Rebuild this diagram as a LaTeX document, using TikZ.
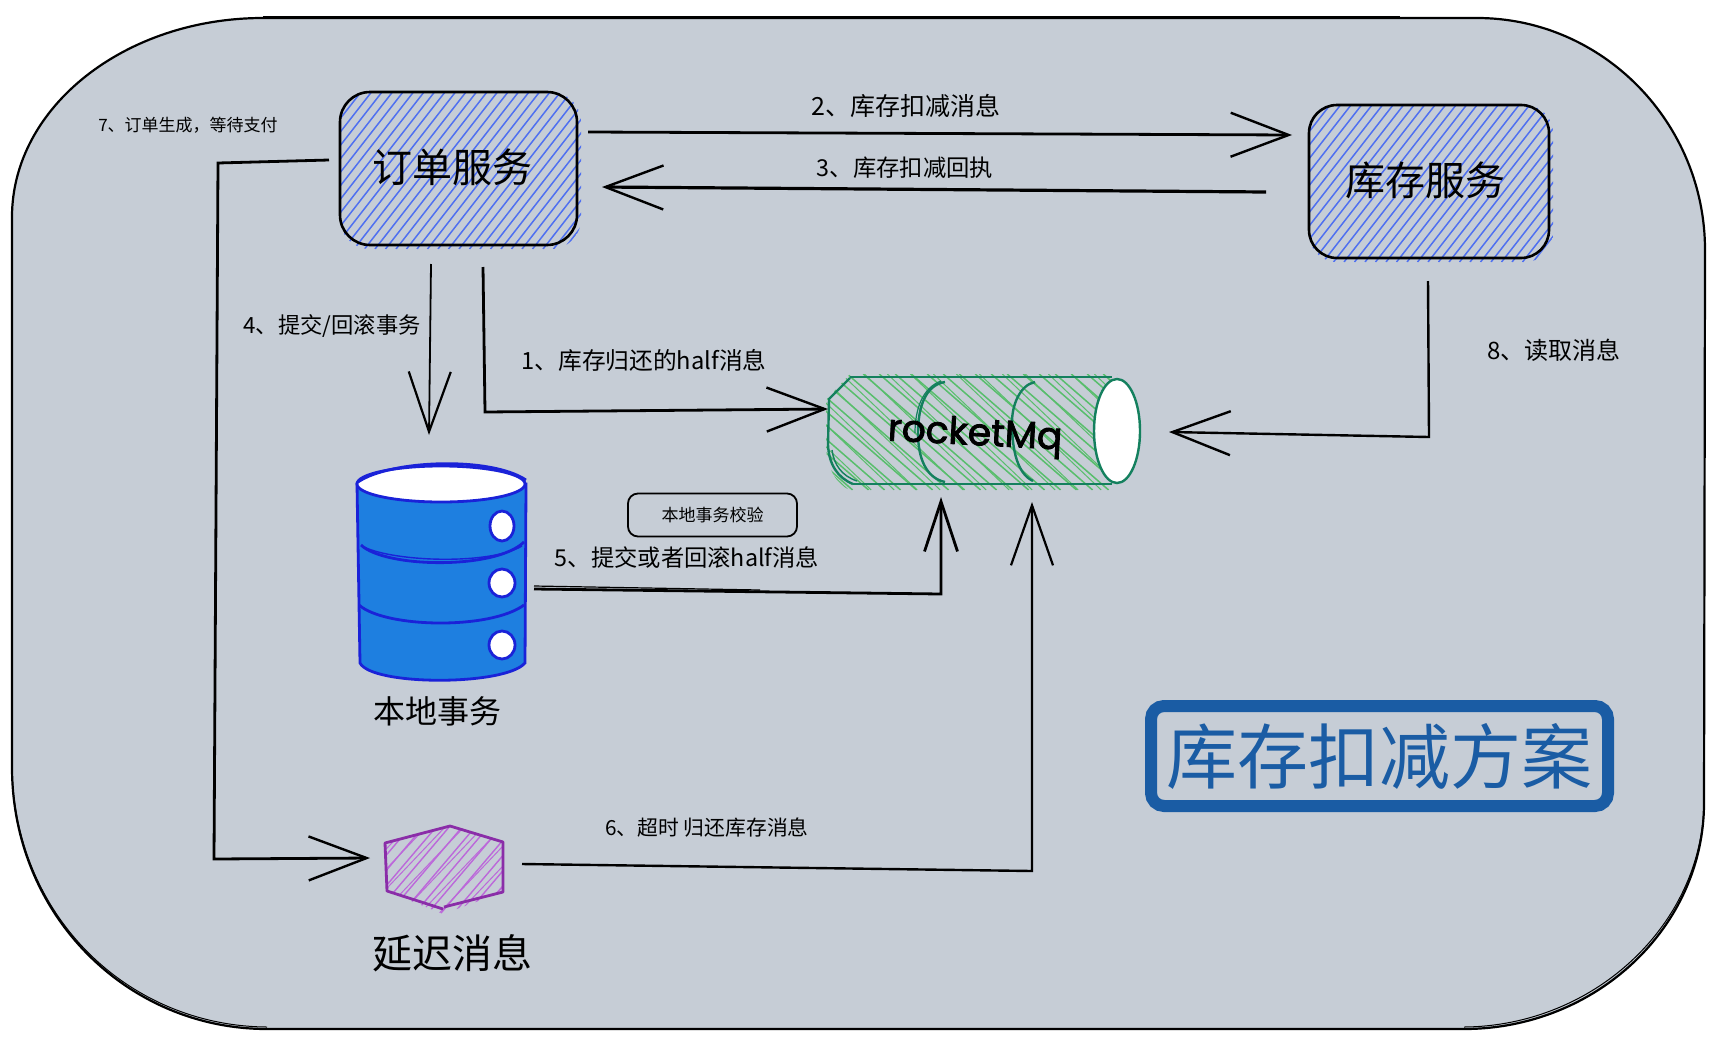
\documentclass[tikz,border=0pt]{standalone}
\usepackage{fontspec}
\setmainfont{Noto Sans CJK SC}
\newfontfamily\handfont[FakeBold=2.2]{Poppins}
\usetikzlibrary{arrows.meta,shapes.geometric}
\definecolor{panelbg}{HTML}{C6CDD6}
\definecolor{hatchblue}{HTML}{4F70F0}
\definecolor{mqgreen}{HTML}{14805E}
\definecolor{hatchgreen}{HTML}{58BE6C}
\definecolor{dbblue}{HTML}{1E7FE0}
\definecolor{dbline}{HTML}{1A22D8}
\definecolor{delaypurple}{HTML}{8A2DA8}
\definecolor{hatchpurple}{HTML}{BC68DA}
\definecolor{titleblue}{HTML}{1A5CA4}
\newcommand{\hatchlines}[6]{%
  \pgfmathsetmacro\hh{#4-(#2)}%
  \pgfmathsetmacro\ll{#6*\hh}%
  \pgfmathsetmacro\xa{#1-abs(\ll)}%
  \pgfmathsetmacro\xb{\xa+#5}%
  \pgfmathsetmacro\xc{#3+abs(\ll)}%
  \foreach \xx in {\xa,\xb,...,\xc}{\draw (\xx,#4) -- ({\xx+\ll},#2);}%
}
\tikzset{
  lab/.style={font=\fontsize{#1pt}{#1pt}\selectfont,inner sep=0pt,outer sep=0pt,text=black},
  svcbox/.style={draw=black,line width=2.6pt,rounded corners=30pt,inner sep=0pt,outer sep=0pt},
  hollow/.style={inner sep=0pt,outer sep=0pt},
  conn/.style={draw=black,line width=2.8pt,line join=miter},
  sketchline/.style={draw=black,line width=1.2pt},
  tipbig/.style={-{Straight Barb[length=58pt,width=44pt,line width=2.4pt]}},
  tiptall/.style={-{Straight Barb[length=60pt,width=42pt,line width=2.2pt]}},
  tipfive/.style={-{Straight Barb[length=50pt,width=33pt,line width=2.8pt]}},
  hatchb/.style={draw=hatchblue,line width=1.5pt},
  hatchg/.style={draw=hatchgreen,line width=1.5pt},
  hatchp/.style={draw=hatchpurple,line width=1.4pt},
  mqline/.style={draw=mqgreen,line width=2.4pt},
  dbstroke/.style={draw=dbline,line width=2.8pt},
  purpleline/.style={draw=delaypurple,line width=2.8pt},
}
\begin{document}
\begin{tikzpicture}[x=1pt,y=-1pt]
\useasboundingbox (0,0) rectangle (1720,1044);
\fill[white] (0,0) rectangle (1720,1044);

% outer panel
\path[fill=panelbg,draw=black,line width=2.2pt]
  (12,217) .. controls (12,107) and (125,18) .. (263,18)
  -- (1477,18) .. controls (1603,18) and (1705,123) .. (1705,250)
  -- (1704,803) .. controls (1704,927) and (1596,1029) .. (1464,1029)
  -- (267,1029) .. controls (127,1029) and (12,915) .. (12,767) -- cycle;
\draw[black,line width=1pt]
  (12,767) .. controls (14,917) and (129,1026) .. (267,1027);
\draw[black,line width=3pt] (263,17) -- (1400,17);
\draw[black,line width=1pt] (1704,803) .. controls (1702,925) and (1594,1026) .. (1464,1027);

% order service hatch
\begin{scope}
  \clip[rounded corners=30pt] (340,92) rectangle (581,249);
  \begin{scope}[hatchb]\hatchlines{340}{92}{581}{249}{10.5}{0.78}\end{scope}
\end{scope}
\node[svcbox,minimum width=237pt,minimum height=153pt] (order) at (458.5,168.5) {};
\node[lab=40] (orderlab) at (452,167) {订单服务};

% stock service hatch
\begin{scope}
  \clip[rounded corners=28pt] (1309,105) rectangle (1553,262);
  \begin{scope}[hatchb]\hatchlines{1309}{105}{1553}{262}{10.5}{0.78}\end{scope}
\end{scope}
\node[svcbox,rounded corners=28pt,minimum width=240pt,minimum height=153pt] (stock) at (1429,181.5) {};
\node[lab=40] (stocklab) at (1425,180) {库存服务};

% rocketMq cylinder
\node[hollow,minimum width=312pt,minimum height=109pt] (mq) at (984,430) {};
\begin{scope}
  \clip (850,374) -- (1117,374) -- (1117,490) -- (850,490) .. controls (835,484) and (826,465) .. (826,445) -- (826,400) -- cycle;
  \begin{scope}[hatchg]\hatchlines{826}{374}{1120}{490}{16}{-1.15}\end{scope}
  \begin{scope}[hatchg,line width=1pt]\hatchlines{832}{374}{1120}{490}{23}{-1.05}\end{scope}
\end{scope}
\path[mqline] (850,377) -- (1112,377);
\path[mqline] (853,484) -- (1112,484);
\path[mqline] (850,378) -- (829,399) -- (828,445) .. controls (829,465) and (838,478) .. (853,484);
\path[mqline,line width=1.4pt] (832,450) .. controls (834,465) and (842,476) .. (857,481);
\path[mqline] (945,382) .. controls (925,385) and (918,408) .. (918,433) .. controls (918,458) and (926,478) .. (945,482);
\path[mqline,line width=1.2pt] (941,381) .. controls (922,388) and (915,410) .. (915,433);
\path[mqline] (1035,382) .. controls (1020,385) and (1012,405) .. (1012,422) .. controls (1012,452) and (1018,474) .. (1033,481);
\path[mqline,fill=white] (1117,431) ellipse [x radius=23,y radius=52];
\node[inner sep=0pt,font=\handfont\fontsize{37.5pt}{37.5pt}\selectfont,rotate=-3] (mqlab) at (975,436) {rocketMq};

% local transaction database
\node[hollow,minimum width=168pt,minimum height=217pt] (db) at (441,571) {};
\path[dbstroke,fill=dbblue] (357,484) -- (360,663) .. controls (372,686) and (505,686) .. (525,663) -- (526,484) -- cycle;
\path[dbstroke] (361,545) .. controls (385,568) and (495,570) .. (524,542);
\path[dbstroke] (359,605) .. controls (385,628) and (490,630) .. (524,605);
\path[dbstroke,line width=1.4pt] (364,547) .. controls (395,562) and (490,565) .. (522,546);
\path[dbstroke,fill=white] (441,484) ellipse [x radius=84,y radius=18];
\path[dbstroke] (358,482) .. controls (390,460) and (490,456) .. (526,480);
\path[dbstroke,fill=white] (502,526) ellipse [x radius=12,y radius=15];
\path[dbstroke,fill=white] (502,583) ellipse [x radius=13,y radius=14];
\path[dbstroke,fill=white] (502,645) ellipse [x radius=13,y radius=14];
\node[lab=32] (dblab) at (437,711) {本地事务};

% delayed message hexagon
\begin{scope}
  \clip (385,843) -- (450,826) -- (503,842) -- (503,892) -- (443,914) -- (387,891) -- cycle;
  \begin{scope}[hatchp]\hatchlines{385}{826}{503}{914}{13}{0.85}\end{scope}
  \begin{scope}[hatchp,line width=1pt]\hatchlines{389}{826}{503}{914}{19}{0.95}\end{scope}
\end{scope}
\node[hollow,minimum width=118pt,minimum height=82pt] (delay) at (444,867) {};
\path[purpleline,line join=round] (443,909) -- (387,891) -- (385,843) -- (450,826) -- (503,842) -- (503,892) -- (444,907);
\node[lab=40] (delaylab) at (452,953) {延迟消息};

% local-check box
\node[draw=black,line width=1.8pt,rounded corners=10pt,inner sep=0pt,outer sep=0pt,minimum width=169pt,minimum height=43pt,lab=17] (check) at (712.5,515) {本地事务校验};

% title
\node[draw=titleblue,line width=12pt,rounded corners=13pt,inner sep=0pt,outer sep=0pt,minimum width=457pt,minimum height=100pt,
  font=\fontsize{71pt}{71pt}\selectfont,text=titleblue] (title) at (1379.5,756) {\raisebox{3pt}{库存扣减方案}};

% connector end points
\coordinate (a2s) at (588,132);  \coordinate (a2e) at (1292,135);
\coordinate (a3s) at (1266,192); \coordinate (a3e) at (602,187);
\coordinate (a7s) at (329,160);  \coordinate (a7a) at (218,163); \coordinate (a7b) at (214,859); \coordinate (a7e) at (370,858);
\coordinate (a4s) at (431,264);  \coordinate (a4e) at (429,435);
\coordinate (a1s) at (483,267);  \coordinate (a1a) at (485,412); \coordinate (a1e) at (828,409);
\coordinate (a5s) at (534,589);  \coordinate (a5a) at (941,594); \coordinate (a5e) at (941,497);
\coordinate (a6s) at (522,864);  \coordinate (a6a) at (1032,871); \coordinate (a6e) at (1032,502);
\coordinate (a8s) at (1428,281); \coordinate (a8a) at (1429,437); \coordinate (a8e) at (1169,432);

% connectors
\draw[conn,tipbig] (a2s) -- (a2e);
\draw[conn,line width=3.2pt,tipbig] (a3s) -- (a3e);
\draw[conn,tipbig] (a7s) -- (a7a) -- (a7b) -- (a7e);
\draw[conn,line width=1.8pt,tiptall] (a4s) -- (a4e);
\draw[conn,tipbig] (a1s) -- (a1a) -- (a1e);
\draw[conn,tipfive] (a5s) -- (a5a) -- (a5e);
\draw[conn,line width=2.4pt,tiptall] (a6s) -- (a6a) -- (a6e);
\draw[conn,line width=2.4pt,tipbig] (a8s) -- (a8a) -- (a8e);
\coordinate (a5t) at (534,586); \coordinate (a5u) at (760,590);
\draw[sketchline] (a5t) -- (a5u);

% connector labels
\node[lab=25] (l2) at (906,106) {2、库存扣减消息};
\node[lab=23.3] (l3) at (905,168) {3、库存扣减回执};
\node[lab=17] (l7) at (188,125) {7、订单生成，等待支付};
\node[lab=22.3] (l4) at (332,326) {4、提交/回滚事务};
\node[lab=23.7] (l1) at (644,360) {1、库存归还的half消息};
\node[lab=23.3] (l5) at (687,558) {5、提交或者回滚half消息};
\node[lab=20.8] (l6) at (707,828) {6、超时 归还库存消息};
\node[lab=24] (l8) at (1554,350) {8、读取消息};
\end{tikzpicture}
\end{document}
